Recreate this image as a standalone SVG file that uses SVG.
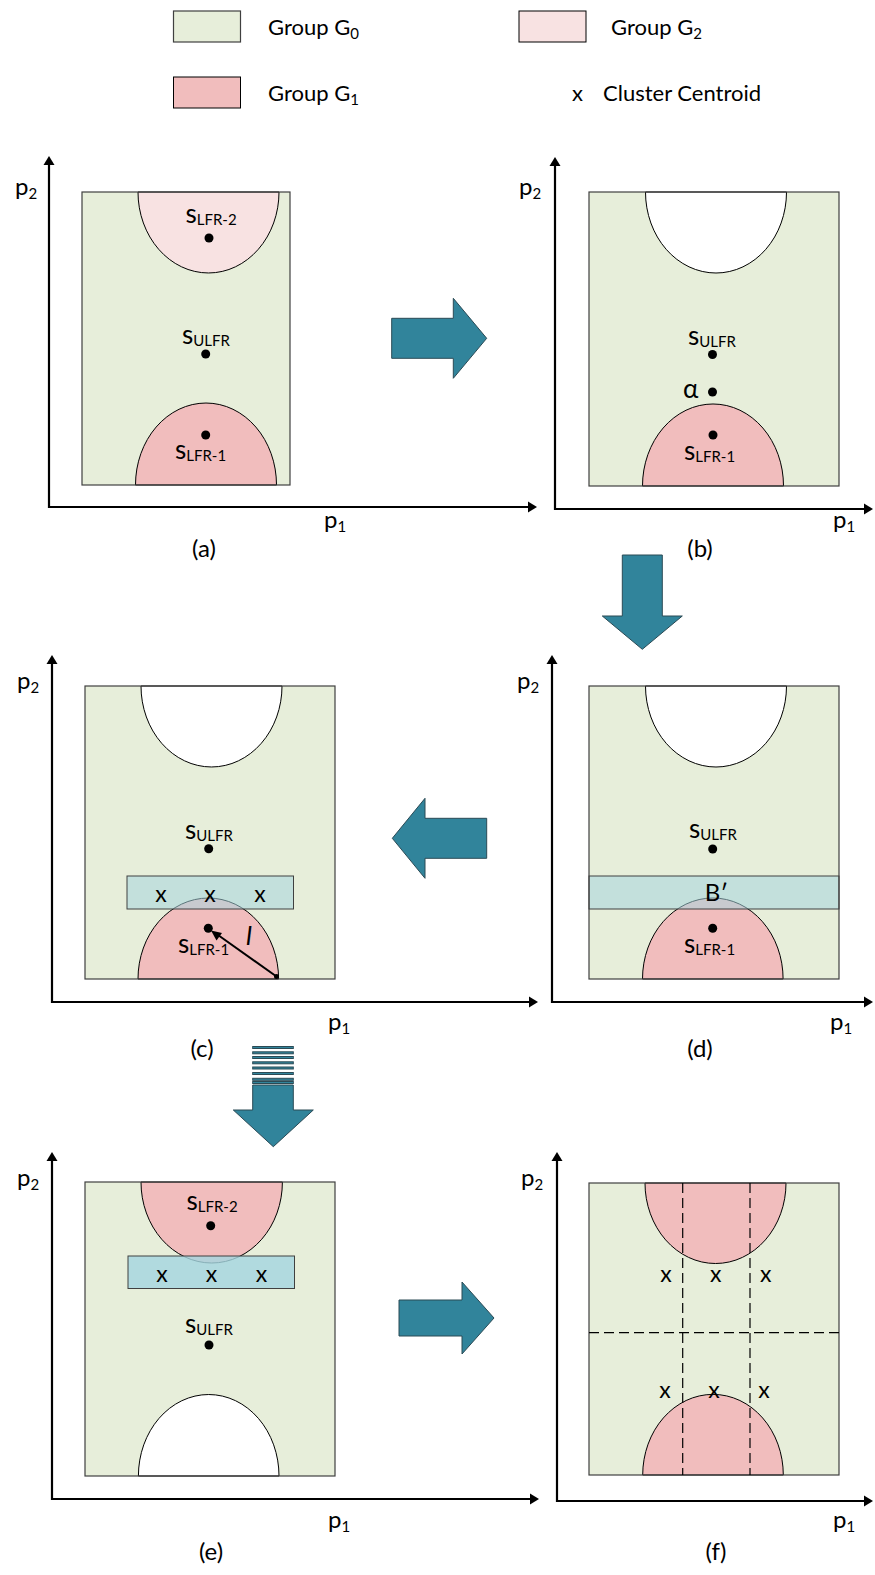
<svg xmlns="http://www.w3.org/2000/svg" width="875" height="1575" viewBox="0 0 875 1575">
<style>
text{font-family:Lato,"Liberation Sans",sans-serif;fill:#000}
.lg{font-size:22px}
.sub{font-size:15px}
.lab{font-size:26px}
.ls{font-size:15px}
.ax{font-size:24px}
.cap{font-size:24px;text-anchor:middle}
.xm{font-size:23px;text-anchor:middle}
.axis{fill:none;stroke:#000;stroke-width:2.2}
.ah{fill:#000}
.frame{fill:none;stroke:#404040;stroke-width:1.2}
.g0{fill:#E7EEDA}
.g1{fill:#F1BDBD;stroke:#000;stroke-width:1}
.g2{fill:#F8E2E2;stroke:#000;stroke-width:1}
.wh{fill:#fff;stroke:#000;stroke-width:1}
.dot{fill:#000}
.blue{fill:#A5D5DF;fill-opacity:0.55;stroke:#404040;stroke-width:1}
.blue2{fill:#A5D5DF;fill-opacity:0.82;stroke:#404040;stroke-width:1}
.blk{fill:#31849B;stroke:#2B4A55;stroke-width:1}
.dash{stroke:#000;stroke-width:1.2;stroke-dasharray:10 5;fill:none}
</style>

<g id="legend">
<rect x="173.5" y="11" width="67" height="31" class="g0" stroke="#404040" stroke-width="1.2"/>
<text class="lg" x="268" y="35">Group G<tspan class="sub" dy="4">0</tspan></text>
<rect x="519" y="11" width="67" height="31" class="g2" stroke="#404040" stroke-width="1.2"/>
<text class="lg" x="611" y="35">Group G<tspan class="sub" dy="4">2</tspan></text>
<rect x="173.5" y="77" width="67" height="31" class="g1" stroke="#404040" stroke-width="1.2"/>
<text class="lg" x="268" y="101">Group G<tspan class="sub" dy="4">1</tspan></text>
<text class="lg" x="572" y="101">x</text>
<text class="lg" x="603" y="101">Cluster Centroid</text>
</g>

<g id="panel-a">
<rect x="82" y="192" width="208" height="293" class="g0"/>
<path class="g2" d="M138,192 A70.5,81 0 0 0 279,192 Z"/>
<path class="g1" d="M135.5,485 A70.5,82 0 0 1 276.5,485 Z"/>
<rect x="82" y="192" width="208" height="293" class="frame"/>
<circle class="dot" cx="209" cy="238" r="4.5"/>
<circle class="dot" cx="205.7" cy="354" r="4.5"/>
<circle class="dot" cx="205.7" cy="435" r="4.5"/>
<text class="lab" x="185.5" y="223">s<tspan class="ls" dy="2">LFR-2</tspan></text>
<text class="lab" x="182" y="344">s<tspan class="ls" dy="2">ULFR</tspan></text>
<text class="lab" x="175" y="459">s<tspan class="ls" dy="2">LFR-1</tspan></text>
<path class="axis" d="M49,163 L49,507 L529,507"/>
<polygon class="ah" points="49,156 43.5,165 54.5,165"/>
<polygon class="ah" points="537,507 528,501.5 528,512.5"/>
<text class="ax" x="15" y="195">p<tspan class="sub" dy="4">2</tspan></text>
<text class="ax" x="324" y="528">p<tspan class="sub" dy="4">1</tspan></text>
<text class="cap" x="204" y="557">(a)</text>
</g>

<g id="panel-b">
<rect x="589" y="192" width="250" height="294" class="g0"/>
<path class="wh" d="M645.5,192 A70.5,81 0 0 0 786.5,192 Z"/>
<path class="g1" d="M642.5,486 A70.5,82 0 0 1 783.5,486 Z"/>
<rect x="589" y="192" width="250" height="294" class="frame"/>
<circle class="dot" cx="712.5" cy="354.5" r="4.5"/>
<circle class="dot" cx="712.5" cy="392" r="4.5"/>
<circle class="dot" cx="713" cy="435" r="4.5"/>
<text class="lab" x="688" y="345">s<tspan class="ls" dy="2">ULFR</tspan></text>
<text class="lab" x="683" y="398">α</text>
<text class="lab" x="684" y="460">s<tspan class="ls" dy="2">LFR-1</tspan></text>
<path class="axis" d="M555,165 L555,509 L864,509"/>
<polygon class="ah" points="555,157 549.5,166 560.5,166"/>
<polygon class="ah" points="873,509 864,503.5 864,514.5"/>
<text class="ax" x="519" y="195">p<tspan class="sub" dy="4">2</tspan></text>
<text class="ax" x="833" y="528">p<tspan class="sub" dy="4">1</tspan></text>
<text class="cap" x="700" y="557">(b)</text>
</g>

<g id="panel-c">
<rect x="85" y="686" width="250" height="293" class="g0"/>
<path class="wh" d="M141,686 A70.5,81 0 0 0 282,686 Z"/>
<path class="g1" d="M138,979 A70.3,81 0 0 1 278.6,979 Z"/>
<rect x="127" y="876" width="166.5" height="33" class="blue"/>
<rect x="85" y="686" width="250" height="293" class="frame"/>
<circle class="dot" cx="208.7" cy="848.7" r="4.5"/>
<circle class="dot" cx="208.3" cy="928.3" r="4.5"/>
<circle class="dot" cx="276.5" cy="976.5" r="2.5"/>
<line x1="276.5" y1="976.5" x2="218" y2="935" stroke="#000" stroke-width="2"/>
<polygon class="ah" points="211,930.5 222,933 216.5,940.5"/>
<text class="lab" x="185" y="839">s<tspan class="ls" dy="2">ULFR</tspan></text>
<text class="lab" x="178" y="953">s<tspan class="ls" dy="2">LFR-1</tspan></text>
<text class="lab" x="246" y="945" font-style="italic">l</text>
<text class="xm" x="161" y="902">x</text>
<text class="xm" x="210" y="902">x</text>
<text class="xm" x="260" y="902">x</text>
<path class="axis" d="M52,663 L52,1002 L530,1002"/>
<polygon class="ah" points="52,655 46.5,664 57.5,664"/>
<polygon class="ah" points="538,1002 529,996.5 529,1007.5"/>
<text class="ax" x="17" y="689">p<tspan class="sub" dy="4">2</tspan></text>
<text class="ax" x="328" y="1030">p<tspan class="sub" dy="4">1</tspan></text>
<text class="cap" x="202" y="1057">(c)</text>
</g>

<g id="panel-d">
<rect x="589" y="686" width="250" height="293" class="g0"/>
<path class="wh" d="M645.5,686 A70.5,81 0 0 0 786.5,686 Z"/>
<path class="g1" d="M642.5,979 A70.3,81 0 0 1 783.1,979 Z"/>
<rect x="589" y="876" width="250" height="33" class="blue"/>
<rect x="589" y="686" width="250" height="293" class="frame"/>
<circle class="dot" cx="712.7" cy="849" r="4.5"/>
<circle class="dot" cx="712.7" cy="928.3" r="4.5"/>
<text class="lab" x="689" y="838">s<tspan class="ls" dy="2">ULFR</tspan></text>
<text class="lab" x="684" y="953">s<tspan class="ls" dy="2">LFR-1</tspan></text>
<text class="cap" x="716.5" y="901">B′</text>
<path class="axis" d="M552,663 L552,1002 L864,1002"/>
<polygon class="ah" points="552,655 546.5,664 557.5,664"/>
<polygon class="ah" points="873,1002 864,996.5 864,1007.5"/>
<text class="ax" x="517" y="689">p<tspan class="sub" dy="4">2</tspan></text>
<text class="ax" x="830" y="1030">p<tspan class="sub" dy="4">1</tspan></text>
<text class="cap" x="700" y="1057">(d)</text>
</g>

<g id="panel-e">
<rect x="85" y="1182" width="250" height="294" class="g0"/>
<path class="g1" d="M141,1182 A70.7,81 0 0 0 282.4,1182 Z"/>
<path class="wh" d="M138.4,1476 A70.3,81.5 0 0 1 279,1476 Z"/>
<rect x="128" y="1256" width="166.5" height="32.5" class="blue2"/>
<rect x="85" y="1182" width="250" height="294" class="frame"/>
<circle class="dot" cx="210.7" cy="1225.7" r="4.5"/>
<circle class="dot" cx="209" cy="1345" r="4.5"/>
<text class="lab" x="186.5" y="1210">s<tspan class="ls" dy="2">LFR-2</tspan></text>
<text class="lab" x="185" y="1333">s<tspan class="ls" dy="2">ULFR</tspan></text>
<text class="xm" x="162" y="1282">x</text>
<text class="xm" x="211.5" y="1282">x</text>
<text class="xm" x="261.5" y="1282">x</text>
<path class="axis" d="M52,1160 L52,1499 L531,1499"/>
<polygon class="ah" points="52,1152 46.5,1161 57.5,1161"/>
<polygon class="ah" points="539,1499 530,1493.5 530,1504.5"/>
<text class="ax" x="17" y="1186">p<tspan class="sub" dy="4">2</tspan></text>
<text class="ax" x="328" y="1528">p<tspan class="sub" dy="4">1</tspan></text>
<text class="cap" x="211" y="1560">(e)</text>
</g>

<g id="panel-f">
<rect x="589" y="1183" width="250" height="292" class="g0"/>
<path class="g1" d="M645,1183 A70.5,80.5 0 0 0 786,1183 Z"/>
<path class="g1" d="M642.7,1475 A70.3,80.7 0 0 1 783.3,1475 Z"/>
<rect x="589" y="1183" width="250" height="292" class="frame"/>
<line class="dash" x1="682.7" y1="1183" x2="682.7" y2="1475"/>
<line class="dash" x1="750" y1="1183" x2="750" y2="1475"/>
<line class="dash" x1="589" y1="1332.7" x2="839" y2="1332.7"/>
<text class="xm" x="666" y="1282">x</text>
<text class="xm" x="715.7" y="1282">x</text>
<text class="xm" x="765.7" y="1282">x</text>
<text class="xm" x="665" y="1398">x</text>
<text class="xm" x="714" y="1398">x</text>
<text class="xm" x="764" y="1398">x</text>
<path class="axis" d="M557,1160 L557,1501 L864,1501"/>
<polygon class="ah" points="557,1152 551.5,1161 562.5,1161"/>
<polygon class="ah" points="873,1501 864,1495.5 864,1506.5"/>
<text class="ax" x="521" y="1186">p<tspan class="sub" dy="4">2</tspan></text>
<text class="ax" x="833" y="1528">p<tspan class="sub" dy="4">1</tspan></text>
<text class="cap" x="716" y="1560">(f)</text>
</g>

<g id="connectors">
<polygon class="blk" points="391.7,318.3 453.3,318.3 453.3,298.3 486.7,338.3 453.3,378.3 453.3,358.3 391.7,358.3"/>
<polygon class="blk" points="622.3,555 662.3,555 662.3,616 682.3,616 642.3,649.3 602.3,616 622.3,616"/>
<polygon class="blk" points="486.7,818.3 425,818.3 425,798.3 392.3,838.3 425,878.3 425,858.3 486.7,858.3"/>
<g class="blk" stroke-width="0.8">
<rect x="252.7" y="1046.5" width="40.6" height="2"/>
<rect x="252.7" y="1051.8" width="40.6" height="2"/>
<rect x="252.7" y="1056.5" width="40.6" height="2"/>
<rect x="252.7" y="1061.8" width="40.6" height="2"/>
<rect x="252.7" y="1067" width="40.6" height="2"/>
<rect x="252.7" y="1072.5" width="40.6" height="2"/>
<rect x="252.7" y="1078.3" width="40.6" height="2"/>
<rect x="252.7" y="1081.5" width="40.6" height="2"/>
</g>
<polygon class="blk" points="252.7,1085 293.3,1085 293.3,1110 313.3,1110 273.3,1146.7 233.3,1110 252.7,1110"/>
<polygon class="blk" points="399,1300 462,1300 462,1282 494,1318 462,1354 462,1336 399,1336"/>
</g>
</svg>
